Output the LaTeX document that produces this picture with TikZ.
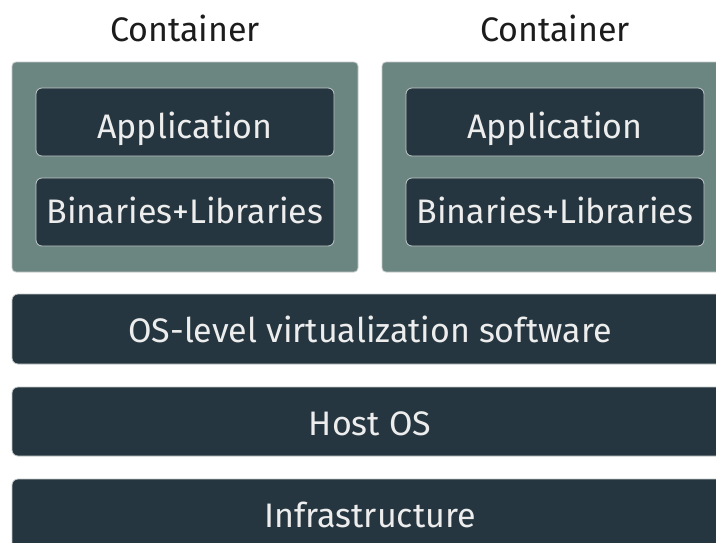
\documentclass[tikz,border=0pt]{standalone}
\usepackage{fontspec}
\setmainfont{Fira Sans}
\definecolor{slate}{HTML}{253640}
\definecolor{sage}{HTML}{6B8580}
\definecolor{rim}{HTML}{C4CACA}
\definecolor{ink}{HTML}{1C1C1C}
\definecolor{paper}{HTML}{EDEDED}
\begin{document}
\begin{tikzpicture}[x=1pt,y=-1pt,
  layer/.style={fill=slate,draw=rim,line width=0.8pt,rounded corners=6pt},
  holder/.style={fill=sage,draw=rim,line width=0.8pt,rounded corners=4pt},
  lbl/.style={anchor=base,text=paper,font=\fontsize{34}{38}\selectfont},
  title/.style={anchor=base,text=ink,font=\fontsize{34}{38}\selectfont}]
\clip (0,0) rectangle (716,542);
\fill[white] (0,0) rectangle (716,542);

% two containers
\foreach \k/\x in {a/12,b/382}{
  \draw[holder] (\x,62) rectangle ++(346,210);
  \node[title] (t\k) at (\x+173,41) {Container};
  \draw[layer] (\x+24,88) rectangle ++(298,68);
  \node[lbl] (app\k) at (\x+173,138) {Application};
  \draw[layer] (\x+24,178) rectangle ++(298,68);
  \node[lbl] (bin\k) at (\x+173,223) {Binaries+Libraries};
}

% shared layers
\draw[layer] (12,294) rectangle (728,364);
\node[lbl] (virt) at (370,342) {OS-level virtualization software};
\draw[layer] (12,387) rectangle (728,456);
\node[lbl] (host) at (370,435) {Host OS};
\draw[layer] (12,479) rectangle (728,549);
\node[lbl] (infra) at (370,527) {Infrastructure};
\end{tikzpicture}
\end{document}
